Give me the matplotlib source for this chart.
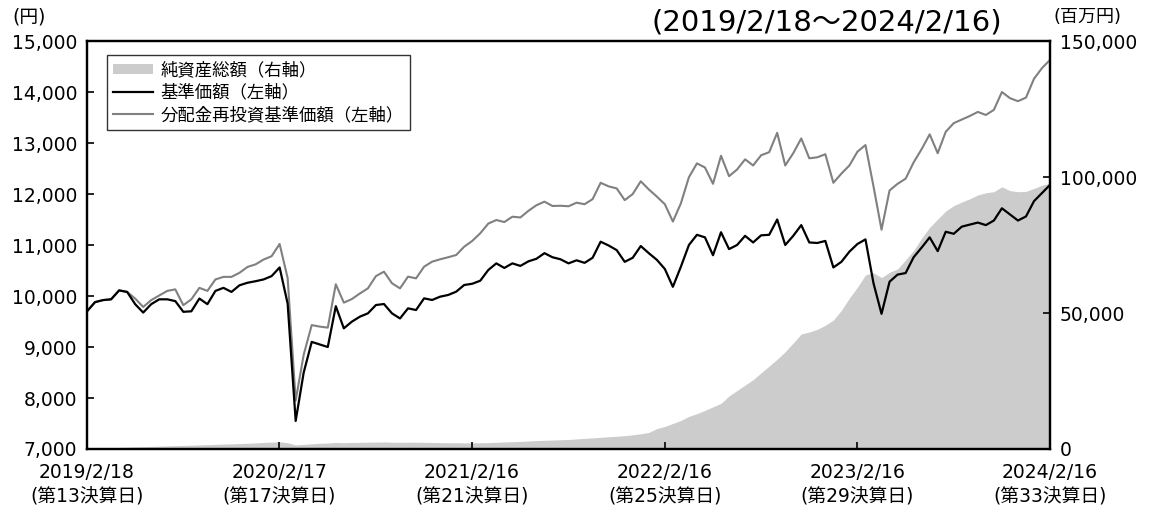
import pandas as pd
import matplotlib
matplotlib.use("Agg")
import matplotlib.pyplot as plt
from matplotlib.patches import Patch
from matplotlib.lines import Line2D
from matplotlib.ticker import FuncFormatter

plt.rcParams['font.family'] = ['DejaVu Sans', 'Noto Sans CJK JP']

# 期間 2019/2/18～2024/2/16 (約半月ごと)
start_date = "2019-02-18"
end_date = "2024-02-16"

# 基準価額 (円, 左軸)
nav = [9700, 9880, 9920, 9935, 10110, 10080, 9840, 9675, 9840, 9935,
       9935, 9900, 9690, 9700, 9950, 9840, 10100, 10160, 10080, 10210,
       10260, 10290, 10325, 10390, 10560, 9850, 7550, 8500, 9100, 9050,
       9000, 9800, 9366, 9497, 9595, 9660, 9823, 9843, 9660, 9560,
       9758, 9725, 9954, 9922, 9987, 10020, 10085, 10216, 10240, 10300,
       10510, 10640, 10550, 10640, 10590, 10680, 10730, 10840, 10760, 10720,
       10640, 10700, 10650, 10750, 11065, 10990, 10900, 10670, 10750, 10980,
       10840, 10710, 10530, 10180, 10575, 11000, 11200, 11150, 10800, 11250,
       10920, 11000, 11180, 11050, 11190, 11200, 11500, 11000, 11180, 11390,
       11050, 11040, 11080, 10560, 10670, 10870, 11020, 11110, 10250, 9650,
       10280, 10420, 10450, 10760, 10950, 11150, 10880, 11260, 11220, 11360,
       11400, 11440, 11390, 11480, 11720, 11600, 11480, 11560, 11860, 12020,
       12180]

# 分配金再投資基準価額 (円, 左軸)
nav_reinvest = [9700, 9880, 9920, 9935, 10110, 10080, 9950, 9785, 9920, 10010,
                10100, 10130, 9820, 9935, 10160, 10100, 10325, 10375, 10375, 10455,
                10570, 10620, 10715, 10780, 11020, 10350, 7950, 8850, 9430, 9400,
                9380, 10230, 9870, 9940, 10050, 10150, 10390, 10477, 10250, 10150,
                10380, 10346, 10575, 10673, 10720, 10760, 10804, 10967, 11080, 11230,
                11420, 11490, 11450, 11555, 11540, 11670, 11780, 11850, 11765, 11770,
                11760, 11830, 11800, 11900, 12220, 12150, 12110, 11880, 12000, 12250,
                12090, 11950, 11800, 11460, 11817, 12330, 12600, 12520, 12200, 12750,
                12350, 12480, 12680, 12560, 12760, 12820, 13200, 12560, 12800, 13090,
                12700, 12720, 12780, 12220, 12400, 12560, 12830, 12960, 12150, 11300,
                12070, 12200, 12300, 12620, 12880, 13170, 12800, 13220, 13390, 13460,
                13530, 13610, 13550, 13650, 14000, 13880, 13820, 13890, 14260, 14470,
                14630]

# 純資産総額 (百万円, 右軸)
net_assets = [150, 260, 340, 450, 560, 640, 760, 850, 960, 1040,
              1150, 1240, 1310, 1400, 1510, 1590, 1700, 1810, 1890, 2000,
              2120, 2240, 2400, 2540, 2650, 2300, 1500, 1700, 1900, 2100,
              2200, 2400, 2300, 2400, 2450, 2500, 2550, 2600, 2500, 2450,
              2500, 2500, 2450, 2400, 2350, 2300, 2300, 2250, 2250, 2300,
              2350, 2450, 2600, 2700, 2800, 2950, 3100, 3200, 3300, 3400,
              3500, 3700, 3900, 4100, 4300, 4500, 4700, 4900, 5200, 5600,
              6100, 7500, 8300, 9400, 10500, 12000, 13000, 14200, 15500, 16800,
              19500, 21500, 23500, 25500, 28000, 30500, 33000, 35800, 39000, 42300,
              43000, 44000, 45500, 47400, 51000, 55500, 59500, 64000, 64800, 63000,
              65000, 66200, 69500, 73000, 77500, 81500, 84500, 87500, 89500, 90800,
              92000, 93400, 94200, 94600, 96400, 95000, 94600, 94700, 95800, 97000,
              97700]

tick_dates = ["2019-02-18", "2020-02-17", "2021-02-16", "2022-02-16", "2023-02-16", "2024-02-16"]
tick_labels = ["2019/2/18\n(第13決算日)", "2020/2/17\n(第17決算日)", "2021/2/16\n(第21決算日)",
               "2022/2/16\n(第25決算日)", "2023/2/16\n(第29決算日)", "2024/2/16\n(第33決算日)"]

dates = pd.date_range(start_date, end_date, periods=len(nav))

fig = plt.figure(figsize=(11.51, 5.07), dpi=100)
ax = fig.add_axes([0.0756, 0.1144, 0.8367, 0.8047])
ax2 = ax.twinx()

# 純資産総額 (背面)
ax2.fill_between(dates, 0, net_assets, color="#cccccc", linewidth=0)
ax2.set_ylim(0, 150000)
ax2.set_yticks([0, 50000, 100000, 150000])
ax2.yaxis.set_major_formatter(FuncFormatter(lambda v, p: f"{int(v):,}"))

ax.set_zorder(ax2.get_zorder() + 1)
ax.patch.set_visible(False)

ax.plot(dates, nav_reinvest, color="#808080", linewidth=1.5)
ax.plot(dates, nav, color="black", linewidth=1.6)
ax.set_ylim(7000, 15000)
ax.set_yticks(range(7000, 15001, 1000))
ax.yaxis.set_major_formatter(FuncFormatter(lambda v, p: f"{int(v):,}"))
ax.set_xlim(pd.Timestamp(start_date), pd.Timestamp(end_date))
ax.set_xticks(pd.to_datetime(tick_dates))
ax.set_xticklabels(tick_labels, linespacing=1.35)

for a in (ax, ax2):
    for s in a.spines.values():
        s.set_linewidth(1.6)
    a.tick_params(direction="in", length=5, width=1.2, labelsize=13.5, pad=7)
ax.tick_params(axis="x", pad=10, labelsize=13.5)

handles = [Patch(facecolor="#cccccc", edgecolor="none"),
           Line2D([], [], color="black", linewidth=1.6),
           Line2D([], [], color="#808080", linewidth=1.5)]
labels = ["純資産総額（右軸）", "基準価額（左軸）", "分配金再投資基準価額（左軸）"]
leg = ax.legend(handles, labels, loc="upper left", bbox_to_anchor=(0.021, 0.965),
                fontsize=12.5, frameon=True, fancybox=False, edgecolor="black",
                handlelength=2.3, handleheight=0.5, handletextpad=0.4,
                labelspacing=0.25, borderpad=0.35, borderaxespad=0)
leg.get_frame().set_linewidth(1.0)
for t in leg.get_texts():
    t.set_family(['Noto Sans CJK JP', 'DejaVu Sans'])

fig.text(0.025, 0.967, "(円)", ha="center", va="center", fontsize=13.5)
fig.text(0.945, 0.967, "(百万円)", ha="center", va="center", fontsize=13)
fig.text(0.718, 0.955, "(2019/2/18～2024/2/16)", ha="center", va="center", fontsize=21)

fig.savefig("out.png", dpi=100)
